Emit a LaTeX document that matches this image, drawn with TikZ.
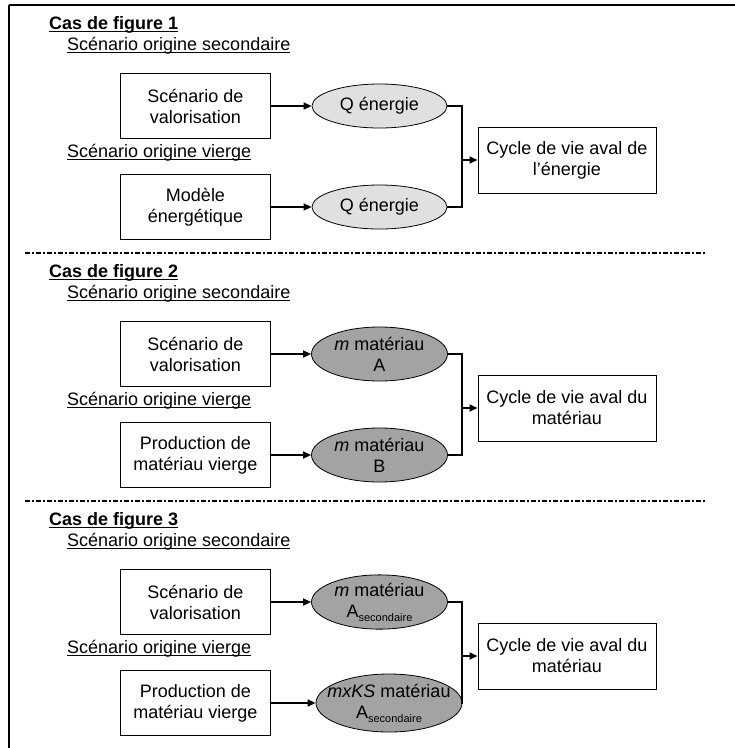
\documentclass[tikz,border=0pt]{standalone}
\usepackage{fontspec}
\setmainfont{Liberation Sans}
\usetikzlibrary{arrows.meta,shapes.geometric}
\definecolor{lightfill}{gray}{0.88}
\definecolor{darkfill}{gray}{0.64}
\newcommand\myul[1]{\setbox0\hbox{#1}\rlap{\rule[-3pt]{\wd0}{1.2pt}}\box0}
\newcommand\subsec{\raisebox{-4pt}{\fontsize{11}{11}\selectfont secondaire}}
\begin{document}
\begin{tikzpicture}[x=1pt,y=-1pt,
 every node/.style={font=\fontsize{18}{21}\selectfont},
 boxnode/.style={draw, line width=1pt, minimum width=150pt, minimum height=65pt, align=center, inner sep=0pt},
 cycbox/.style={draw, line width=1pt, minimum width=178pt, minimum height=66pt, align=center, inner sep=0pt},
 lightell/.style={ellipse, draw, line width=0.8pt, fill=lightfill, minimum width=135pt, minimum height=44pt, inner sep=0pt, align=center},
 darkell/.style={ellipse, draw, line width=0.8pt, fill=darkfill, minimum width=136pt, minimum height=54pt, inner sep=0pt, align=center},
 conn/.style={line width=1.6pt},
 arr/.style={conn, -{Triangle[length=8pt,width=7pt]}},
 casetitle/.style={anchor=base west, font=\bfseries\fontsize{18}{21}\selectfont, inner sep=0pt},
 scenlabel/.style={anchor=base west, inner sep=0pt},
 sepline/.style={line width=1.6pt, dash pattern=on 5pt off 2pt on 2pt off 2pt}
]
\useasboundingbox (0,0) rectangle (735,748);
% frame
\draw[line width=2pt] (9,5) -- (735,5);
\draw[line width=1.2pt] (9,5) -- (9,748);
% separators
\draw[sepline] (25,253) -- (706,253);
\draw[sepline] (25,501) -- (706,501);

% ---------- section 1 ----------
\node[casetitle] (t1) at (49,29) {\myul{Cas de figure 1}};
\node[scenlabel] (s1a) at (67,50) {\myul{Scénario origine secondaire}};
\node[boxnode] (b1a) at (195.5,106) {Scénario de\\valorisation};
\node[lightell] (e1a) at (379.5,106) {Q énergie};
\node[scenlabel] (s1b) at (67,157) {\myul{Scénario origine vierge}};
\node[boxnode] (b1b) at (195.5,207) {Modèle\\énergétique};
\node[lightell] (e1b) at (379.5,207) {Q énergie};
\node[cycbox] (c1) at (567,160) {Cycle de vie aval de\\l’énergie};
\coordinate (j1) at (462,160);
\draw[arr] (b1a.east) -- (e1a.west);
\draw[arr] (b1b.east) -- (e1b.west);
\draw[conn] (e1a.east) -| (j1) |- (e1b.east);
\draw[arr] (j1) -- (c1.west);

% ---------- section 2 ----------
\node[casetitle] (t2) at (49,277) {\myul{Cas de figure 2}};
\node[scenlabel] (s2a) at (67,298) {\myul{Scénario origine secondaire}};
\node[boxnode] (b2a) at (195.5,354) {Scénario de\\valorisation};
\node[darkell] (e2a) at (379.5,354) {{\itshape m} matériau\\A};
\node[scenlabel] (s2b) at (67,405) {\myul{Scénario origine vierge}};
\node[boxnode] (b2b) at (195.5,455) {Production de\\matériau vierge};
\node[darkell] (e2b) at (379.5,455) {{\itshape m} matériau\\B};
\node[cycbox] (c2) at (567,408) {Cycle de vie aval du\\matériau};
\coordinate (j2) at (462,408);
\draw[arr] (b2a.east) -- (e2a.west);
\draw[arr] (b2b.east) -- (e2b.west);
\draw[conn] (e2a.east) -| (j2) |- (e2b.east);
\draw[arr] (j2) -- (c2.west);

% ---------- section 3 ----------
\node[casetitle] (t3) at (49,525) {\myul{Cas de figure 3}};
\node[scenlabel] (s3a) at (67,546) {\myul{Scénario origine secondaire}};
\node[boxnode] (b3a) at (195.5,602) {Scénario de\\valorisation};
\node[darkell] (e3a) at (379.5,602) {{\itshape m} matériau\\A\subsec};
\node[scenlabel] (s3b) at (67,653) {\myul{Scénario origine vierge}};
\node[boxnode] (b3b) at (195.5,703) {Production de\\matériau vierge};
\node[darkell, minimum width=146pt, minimum height=58pt] (e3b) at (389,703) {\makebox[90pt][c]{{\itshape mxKS} matériau}\\\makebox[90pt][c]{A\subsec}};
\node[cycbox] (c3) at (567,656) {Cycle de vie aval du\\matériau};
\coordinate (j3) at (462,656);
\draw[arr] (b3a.east) -- (e3a.west);
\draw[arr] (b3b.east) -- (e3b.west);
\draw[conn] (e3a.east) -| (j3) |- (e3b.east);
\draw[arr] (j3) -- (c3.west);
\end{tikzpicture}
\end{document}
